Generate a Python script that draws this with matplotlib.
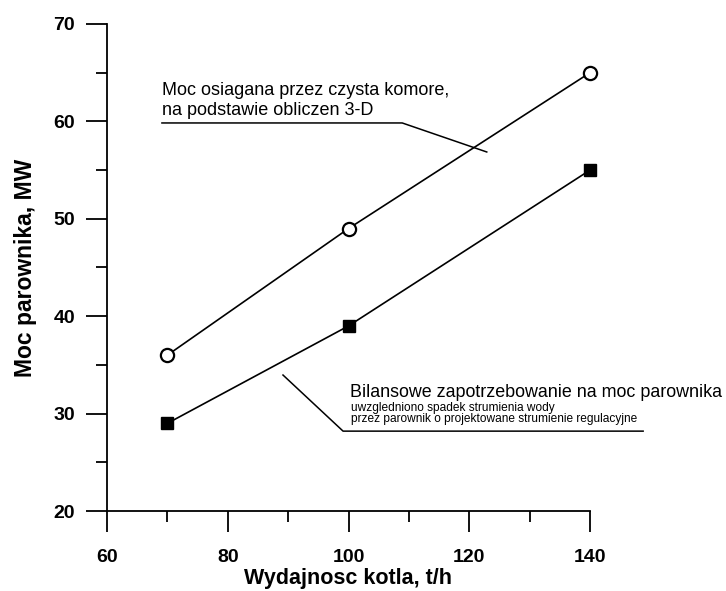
import matplotlib
matplotlib.use("Agg")
import matplotlib.pyplot as plt

plt.rcParams['font.family'] = ['Liberation Sans', 'DejaVu Sans']

x_vals = [70, 100, 140]
moc_3d = [36, 49, 65]
bilans = [29, 39, 55]

fig = plt.figure(figsize=(7.26, 5.91), dpi=100)
ax = fig.add_axes([107/726, 1 - 511/591, (590-107)/726, (511-24)/591])

ax.plot(x_vals, moc_3d, color='black', lw=1.2, marker='o', ms=9.5,
        mfc='white', mec='black', mew=1.6, zorder=3, clip_on=False)
ax.plot(x_vals, bilans, color='black', lw=1.2, marker='s', ms=8.7,
        mfc='black', mec='black', zorder=3, clip_on=False)

ax.set_xlim(60, 140)
ax.set_ylim(20, 70)
ax.set_xticks([60, 80, 100, 120, 140])
ax.set_xticks([70, 90, 110, 130], minor=True)
ax.set_yticks([20, 30, 40, 50, 60, 70])
ax.set_yticks([25, 35, 45, 55, 65], minor=True)
for s in ['top', 'right']:
    ax.spines[s].set_visible(False)
for s in ['left', 'bottom']:
    ax.spines[s].set_linewidth(1.3)
ax.tick_params(which='major', direction='out', length=15, width=1.3,
               labelsize=14)
ax.tick_params(axis='x', which='major', pad=12)
ax.tick_params(axis='y', which='major', pad=8)
ax.tick_params(which='minor', direction='out', length=8, width=1.3)
for lab in ax.get_xticklabels() + ax.get_yticklabels():
    lab.set_fontweight('bold')

ax.set_xlabel('Wydajnosc kotla, t/h', fontsize=15.5, fontweight='bold', labelpad=2)
ax.set_ylabel('Moc parownika, MW', fontsize=16.5, fontweight='bold', labelpad=12)

# upper annotation
ax.text(69.1, 62.71, 'Moc osiagana przez czysta komore,', fontsize=13,
        va='baseline', ha='left')
ax.text(69.1, 60.7, 'na podstawie obliczen 3-D', fontsize=13,
        va='baseline', ha='left')
ax.plot([69.1, 108.9, 122.9], [59.84, 59.84, 56.86], color='black', lw=1.1,
        clip_on=False)

# lower annotation
ax.text(100.2, 31.7, 'Bilansowe zapotrzebowanie na moc parownika', fontsize=12.9,
        va='baseline', ha='left', clip_on=False)
ax.text(100.4, 30.3, 'uwzgledniono spadek strumienia wody', fontsize=8.6,
        va='baseline', ha='left', clip_on=False)
ax.text(100.4, 29.15, 'przez parownik o projektowane strumienie regulacyjne',
        fontsize=8.6, va='baseline', ha='left', clip_on=False)
ax.plot([89.15, 99.1, 148.8], [33.96, 28.2, 28.2], color='black', lw=1.1,
        clip_on=False)

fig.savefig('out.png', dpi=100)
